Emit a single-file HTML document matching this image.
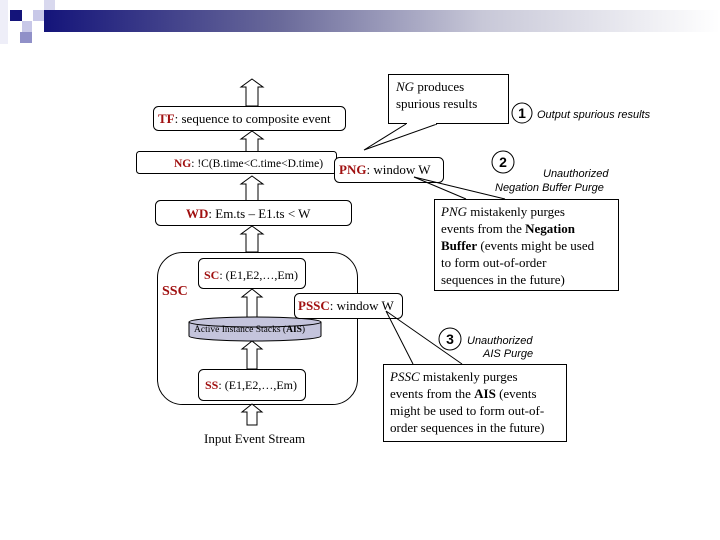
<!DOCTYPE html>
<html><head><meta charset="utf-8"><style>
html,body{margin:0;padding:0;background:#fff;}
svg{display:block;}
text{font-family:"Liberation Serif",serif;font-size:13px;fill:#000;}
.r{fill:#a01010;font-weight:bold;}
.s{font-family:"Liberation Sans",sans-serif;font-size:11px;font-style:italic;}
.n{font-family:"Liberation Sans",sans-serif;font-size:14px;font-weight:bold;}
</style></head><body>
<svg width="720" height="540" viewBox="0 0 720 540" xmlns="http://www.w3.org/2000/svg">
<defs>
<linearGradient id="g" x1="0" x2="1" y1="0" y2="0">
<stop offset="0" stop-color="#14147a"/><stop offset="0.35" stop-color="#6a6a9a"/><stop offset="0.65" stop-color="#c8c8d8"/><stop offset="1" stop-color="#ffffff"/>
</linearGradient>
</defs>
<rect x="44" y="10" width="676" height="22" fill="url(#g)"/>
<rect x="10" y="10" width="12" height="11" fill="#14147a"/>
<rect x="33" y="10" width="11" height="11" fill="#c8c8e8"/>
<rect x="44" y="0" width="11" height="10" fill="#d8d8ee"/>
<rect x="22" y="21" width="10" height="11" fill="#c8c8e8"/>
<rect x="20" y="32" width="12" height="11" fill="#9090c8"/>
<rect x="0" y="0" width="8" height="44" fill="#eeeef8"/>

<g fill="#fff" stroke="#000" stroke-width="1">
<polygon points="252,79 263,87 258,87 258,106 246,106 246,87 241,87"/>
<polygon points="252,131 263,139 258,139 258,152 246,152 246,139 241,139"/>
<polygon points="252,176 263,184 258,184 258,201 246,201 246,184 241,184"/>
<polygon points="252,226 263,234 258,234 258,252 246,252 246,234 241,234"/>
</g>

<rect x="153.5" y="106.5" width="192" height="24" rx="5" fill="#fff" stroke="#000"/>
<text x="158" y="123"><tspan class="r">TF</tspan>: sequence to composite event</text>

<rect x="136.5" y="151.5" width="200" height="22" rx="3" fill="#fff" stroke="#000"/>
<text x="174" y="167" style="font-size:11.5px"><tspan class="r">NG</tspan>: !C(B.time&lt;C.time&lt;D.time)</text>

<rect x="334.5" y="157.5" width="109" height="25" rx="5" fill="#fff" stroke="#000"/>
<text x="339" y="174"><tspan class="r">PNG</tspan>: window W</text>

<rect x="155.5" y="200.5" width="196" height="25" rx="5" fill="#fff" stroke="#000"/>
<text x="186" y="218"><tspan class="r">WD</tspan>: Em.ts – E1.ts &lt; W</text>

<rect x="157.5" y="252.5" width="200" height="152" rx="25" fill="#fff" stroke="#000"/>
<rect x="198.5" y="258.5" width="107" height="30" rx="5" fill="#fff" stroke="#000"/>
<text x="204" y="279" style="font-size:12px"><tspan class="r">SC</tspan>: (E1,E2,…,Em)</text>
<text x="162" y="295" class="r" style="font-size:14px">SSC</text>

<g fill="#fff" stroke="#000">
<polygon points="252,289 262,297 257,297 257,318 247,318 247,297 242,297"/>
<polygon points="252,341 262,349 257,349 257,369 247,369 247,349 242,349"/>
<polygon points="252,404 262,412 257,412 257,425 247,425 247,412 242,412"/>
</g>
<path d="M189,322 L189,336 A66,5 0 0 0 321,336 L321,322" fill="#c4c4dc" stroke="#000"/>
<ellipse cx="255" cy="322" rx="66" ry="5" fill="#c4c4dc" stroke="#000"/>
<text x="194" y="332" style="font-size:9.5px">Active Instance Stacks (<tspan font-weight="bold">AIS</tspan>)</text>

<rect x="294.5" y="293.5" width="108" height="25" rx="5" fill="#fff" stroke="#000"/>
<text x="298" y="310"><tspan class="r">PSSC</tspan>: window W</text>

<rect x="198.5" y="369.5" width="107" height="31" rx="5" fill="#fff" stroke="#000"/>
<text x="205" y="389" style="font-size:12px"><tspan class="r">SS</tspan>: (E1,E2,…,Em)</text>
<text x="204" y="443">Input Event Stream</text>

<!-- callout 1 -->
<rect x="388.5" y="74.5" width="120" height="49" fill="#fff" stroke="#000"/>
<polyline points="406,124 364,150 437,124" fill="#fff" stroke="#000"/>
<line x1="407" y1="123.5" x2="436" y2="123.5" stroke="#fff" stroke-width="1.5"/>
<text x="396" y="91"><tspan font-style="italic">NG</tspan> produces</text>
<text x="396" y="108">spurious results</text>
<circle cx="522" cy="113" r="10" fill="#fff" stroke="#000"/>
<text x="522" y="118" class="n" text-anchor="middle">1</text>
<text x="537" y="118" class="s">Output spurious results</text>

<circle cx="503" cy="162" r="11" fill="#fff" stroke="#000"/>
<text x="503" y="167" class="n" text-anchor="middle">2</text>
<text x="543" y="177" class="s">Unauthorized</text>
<text x="495" y="191" class="s">Negation Buffer Purge</text>

<!-- callout 2 -->
<line x1="414" y1="177" x2="466" y2="199" stroke="#000"/>
<line x1="414" y1="177" x2="505" y2="199" stroke="#000"/>
<rect x="434.5" y="199.5" width="184" height="91" fill="#fff" stroke="#000"/>
<text x="441" y="216"><tspan font-style="italic">PNG</tspan>  mistakenly purges</text>
<text x="441" y="233">events from the <tspan font-weight="bold">Negation</tspan></text>
<text x="441" y="250"><tspan font-weight="bold">Buffer</tspan> (events might be used</text>
<text x="441" y="267">to form out-of-order</text>
<text x="441" y="284">sequences in the future)</text>

<circle cx="450" cy="339" r="11" fill="#fff" stroke="#000"/>
<text x="450" y="344" class="n" text-anchor="middle">3</text>
<text x="467" y="344" class="s">Unauthorized</text>
<text x="483" y="357" class="s">AIS Purge</text>

<!-- callout 3 -->
<polyline points="413,364 386,311 462,364" fill="none" stroke="#000"/>
<rect x="383.5" y="364.5" width="183" height="77" fill="#fff" stroke="#000"/>
<text x="390" y="381"><tspan font-style="italic">PSSC</tspan> mistakenly purges</text>
<text x="390" y="398">events from the <tspan font-weight="bold">AIS</tspan> (events</text>
<text x="390" y="415">might be used to form out-of-</text>
<text x="390" y="432">order sequences in the future)</text>
</svg>
</body></html>
